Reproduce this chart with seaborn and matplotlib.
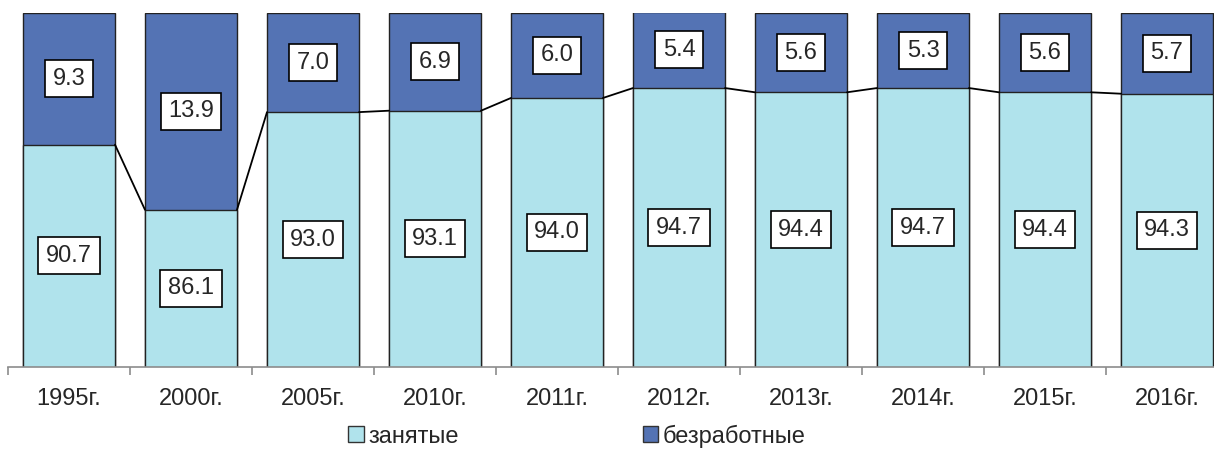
import pandas as pd
import matplotlib
matplotlib.use("Agg")
import matplotlib.pyplot as plt
from matplotlib.patches import Patch
import seaborn as sns

# Data
years = ["1995г.", "2000г.", "2005г.", "2010г.", "2011г.",
         "2012г.", "2013г.", "2014г.", "2015г.", "2016г."]
employed = [90.7, 86.1, 93.0, 93.1, 94.0, 94.7, 94.4, 94.7, 94.4, 94.3]
unemployed = [9.3, 13.9, 7.0, 6.9, 6.0, 5.4, 5.6, 5.3, 5.6, 5.7]

emp_color = "#b0e3ec"
unemp_color = "#5473b4"
y_min = 75

df = pd.DataFrame({"year": years, "employed": employed, "unemployed": unemployed})
df["total"] = df["employed"] + df["unemployed"]

sns.set_style("white")
plt.rcParams["font.family"] = ["Liberation Sans", "DejaVu Sans"]

fig = plt.figure(figsize=(12.14, 4.53), dpi=100)
ax = fig.add_axes([8 / 1214, 86 / 453, 1220 / 1214, 354 / 453])

width = 0.754
sns.barplot(data=df, x="year", y="total", color=unemp_color, saturation=1,
            width=width, edgecolor="#222222", linewidth=1, ax=ax)
sns.barplot(data=df, x="year", y="employed", color=emp_color, saturation=1,
            width=width, edgecolor="#222222", linewidth=1, ax=ax)

# series lines between bars
for i in range(len(years) - 1):
    ax.plot([i + width / 2, i + 1 - width / 2], [employed[i], employed[i + 1]],
            color="black", lw=1.3)

# data labels
box = dict(boxstyle="square,pad=0.32", facecolor="white", edgecolor="black", lw=1.2)
for i in range(len(years)):
    ax.text(i, (y_min + employed[i]) / 2, f"{employed[i]:.1f}", ha="center",
            va="center", fontsize=17, bbox=box)
    ax.text(i, employed[i] + unemployed[i] / 2, f"{unemployed[i]:.1f}", ha="center",
            va="center", fontsize=17, bbox=box)

ax.set_ylim(y_min, 100)
ax.set_xlim(-0.5, len(years) - 0.5)
ax.set_xlabel("")
ax.set_ylabel("")
ax.set_yticks([])
for s in ["top", "right", "left"]:
    ax.spines[s].set_visible(False)
ax.spines["bottom"].set_color("#8c8c8c")
ax.spines["bottom"].set_linewidth(1.2)

ax.set_xticks(range(len(years)))
ax.set_xticklabels(years, fontsize=17)
ax.tick_params(axis="x", which="major", length=0, pad=15)
ax.set_xticks([i - 0.5 for i in range(len(years) + 1)], minor=True)
ax.tick_params(axis="x", which="minor", length=6, width=1.2, color="#8c8c8c",
               direction="out", bottom=True)

handles = [Patch(facecolor=emp_color, edgecolor="#333333", label="занятые"),
           Patch(facecolor=unemp_color, edgecolor="#333333", label="безработные")]
fig.legend(handles=handles, loc="center", bbox_to_anchor=(577 / 1214, 17 / 453),
           ncol=2, frameon=False, fontsize=17, handlelength=0.65, handleheight=0.65,
           handletextpad=0.2, columnspacing=7.8)

fig.savefig("out.png", dpi=100)
